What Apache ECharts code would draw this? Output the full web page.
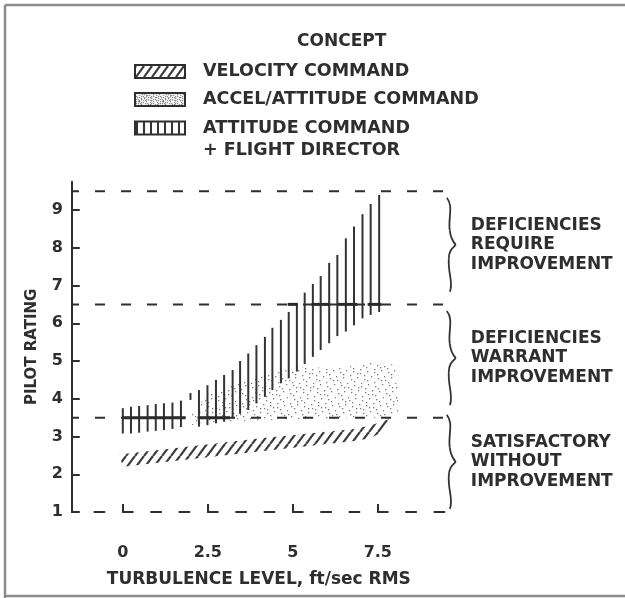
<!DOCTYPE html>
<html>
<head>
<meta charset="utf-8">
<script src="https://cdn.jsdelivr.net/npm/echarts@6/dist/echarts.min.js"></script>
<style>
  html, body { margin: 0; padding: 0; background: #fff; }
  #chart { width: 625px; height: 598px; }
</style>
</head>
<body>
<div id="chart"></div>
<script>
// ---- Data ---------------------------------------------------------------
// Rating boundaries between the three pilot-opinion zones
const ratingBounds = [3.5, 6.5, 9.5];
const zoneLow = [6.5, 3.5, 1];
const zoneHigh = [9.5, 6.5, 3.5];
const zoneLabels = [
  'DEFICIENCIES\nREQUIRE\nIMPROVEMENT',
  'DEFICIENCIES\nWARRANT\nIMPROVEMENT',
  'SATISFACTORY\nWITHOUT\nIMPROVEMENT'
];

const legendTitle = 'CONCEPT';
const conceptNames = [
  'VELOCITY COMMAND',
  'ACCEL/ATTITUDE COMMAND',
  'ATTITUDE COMMAND\n+ FLIGHT DIRECTOR'
];

const xTicks = [0, 2.5, 5, 7.5];
const yTicks = [1, 2, 3, 4, 5, 6, 7, 8, 9];

// Velocity command: band of ratings (upper and lower edges)
const velTurbUpper = [-0.1, 4.0, 6.8, 7.3, 7.95];
const velUpper     = [2.52, 2.95, 3.2, 3.3, 3.5];
const velTurbLower = [0.0, 4.0, 6.8, 7.25, 7.6];
const velLower     = [2.2, 2.6, 2.88, 2.95, 3.1];

// Accel/attitude command: band of ratings
const accTurbUpper = [2.0, 2.5, 3.5, 4.5, 5.3, 6.3, 7.3, 8.1];
const accUpper     = [3.6, 4.1, 4.45, 4.7, 4.85, 4.8, 4.95, 4.9];
const accTurbLower = [2.0, 3.0, 5.0, 7.5, 8.1];
const accLower     = [3.3, 3.4, 3.45, 3.5, 3.65];

// Attitude command + flight director: rating spread at each turbulence level
const fdTurb = [0, 0.24, 0.48, 0.73, 0.97, 1.21, 1.46, 1.71, 1.99,
  2.24, 2.49, 2.74, 2.98, 3.23, 3.45, 3.69, 3.93, 4.18, 4.4, 4.65, 4.88,
  5.12, 5.35, 5.59, 5.82, 6.07, 6.31, 6.56, 6.8, 7.05, 7.29, 7.54];
const fdLow = [3.08, 3.08, 3.1, 3.13, 3.15, 3.17, 3.2, 3.25, 3.97,
  3.26, 3.3, 3.35, 3.39, 3.48, 3.6, 3.7, 3.88, 4.05, 4.23, 4.41, 4.54,
  4.72, 4.92, 5.11, 5.29, 5.47, 5.66, 5.78, 5.95, 6.13, 6.22, 6.3];
const fdHigh = [3.75, 3.79, 3.81, 3.83, 3.86, 3.88, 3.9, 3.95, 4.15,
  4.23, 4.36, 4.5, 4.63, 4.76, 5.0, 5.2, 5.42, 5.64, 5.88, 6.09, 6.3,
  6.51, 6.81, 7.04, 7.25, 7.6, 7.81, 8.25, 8.56, 8.89, 9.16, 9.4];

// Typical (median) rating marks for the flight-director concept
const medTurbStart = [0.0, 2.2, 4.85, 5.55, 6.3, 7.2];
const medTurbEnd   = [1.85, 3.15, 5.15, 6.1, 6.9, 7.6];
const medRating    = [3.5, 3.5, 6.5, 6.5, 6.5, 6.5];

// ---- Fill textures ---------------------------------------------------------
const INK = '#2e2e2e';
const FONT = '"DejaVu Sans", sans-serif';

function hatchTexture(w, h, lw) {
  const c = document.createElement('canvas');
  c.width = w; c.height = h;
  const g = c.getContext('2d');
  g.strokeStyle = '#3a3a3a';
  g.lineWidth = lw;
  g.lineCap = 'butt';
  [-w, 0, w].forEach(function (dx) {
    g.beginPath();
    g.moveTo(dx, h);
    g.lineTo(dx + w, 0);
    g.stroke();
  });
  return c;
}

function stippleTexture(size, count, alpha) {
  const c = document.createElement('canvas');
  c.width = size; c.height = size;
  const g = c.getContext('2d');
  g.fillStyle = 'rgba(70,70,70,' + alpha + ')';
  // evenly spread points (additive recurrence)
  const a1 = 0.7548776662, a2 = 0.5698402910;
  for (let i = 0; i < count; i++) {
    const px = ((0.5 + i * a1) % 1) * size;
    const py = ((0.5 + i * a2) % 1) * size;
    g.fillRect(Math.floor(px), Math.floor(py), 1.3, 1.3);
  }
  return c;
}

function verticalTexture(w, h, lw) {
  const c = document.createElement('canvas');
  c.width = w; c.height = h;
  const g = c.getContext('2d');
  g.fillStyle = '#333';
  g.fillRect(Math.round((w - lw) / 2), 0, lw, h);
  return c;
}

const hatchFill = { image: hatchTexture(9, 12, 2.2), repeat: 'repeat' };
const stippleFill = { image: stippleTexture(48, 95, 0.7), repeat: 'repeat' };
const legendHatch = { image: hatchTexture(8, 11, 2.2), repeat: 'repeat' };
const legendStipple = { image: stippleTexture(24, 140, 0.6), repeat: 'repeat' };
const legendVertical = { image: verticalTexture(7, 4, 2), repeat: 'repeat' };

// ---- Helpers -----------------------------------------------------------------
function outline(upX, upY, loX, loY) {
  const pts = upX.map(function (x, i) { return [x, upY[i]]; });
  for (let i = loX.length - 1; i >= 0; i--) pts.push([loX[i], loY[i]]);
  return pts;
}

function bandRenderer(fill) {
  return function (params, api) {
    if (params.dataIndexInside !== 0) return;
    const pts = [];
    for (let i = 0; i < params.dataInsideLength; i++) {
      pts.push(api.coord([api.value(0, i), api.value(1, i)]));
    }
    return { type: 'polygon', shape: { points: pts }, style: { fill: fill, stroke: null } };
  };
}

function braceShapes(x, yc, hh, color) {
  const s = { stroke: color, lineWidth: 1.8, fill: null };
  return [
    { type: 'bezierCurve', shape: { x1: x, y1: yc - hh, cpx1: x + 7, cpy1: yc - hh + 8, cpx2: x + 1, cpy2: yc - hh * 0.55, x2: x + 3, y2: yc - hh * 0.3 }, style: s },
    { type: 'bezierCurve', shape: { x1: x + 3, y1: yc - hh * 0.3, cpx1: x + 4, cpy1: yc - hh * 0.12, cpx2: x + 6, cpy2: yc - 3, x2: x + 9, y2: yc }, style: s },
    { type: 'bezierCurve', shape: { x1: x + 9, y1: yc, cpx1: x + 6, cpy1: yc + 3, cpx2: x + 2, cpy2: yc + hh * 0.12, x2: x + 2, y2: yc + hh * 0.3 }, style: s },
    { type: 'bezierCurve', shape: { x1: x + 2, y1: yc + hh * 0.3, cpx1: x + 1, cpy1: yc + hh * 0.6, cpx2: x + 7, cpy2: yc + hh - 8, x2: x + 3, y2: yc + hh }, style: s }
  ];
}

// ---- Chart -------------------------------------------------------------------
const chart = echarts.init(document.getElementById('chart'), null, { renderer: 'canvas' });

const legendRowsY = [71.5, 99.5, 128];
const legendFills = [legendHatch, legendStipple, legendVertical];
const legendGraphics = [{
  type: 'text', left: 297, top: 33,
  style: { text: legendTitle, font: 'bold 17px ' + FONT, fill: INK }
}];
conceptNames.forEach(function (name, i) {
  legendGraphics.push({
    type: 'rect', shape: { x: 135, y: legendRowsY[i] - 6.5, width: 50, height: 13 },
    style: { fill: legendFills[i], stroke: INK, lineWidth: 2 }
  });
  legendGraphics.push({
    type: 'text', x: 203, y: legendRowsY[i] - 11,
    style: { text: name, font: 'bold 17.5px ' + FONT, fill: INK, lineHeight: 22, verticalAlign: 'top' }
  });
});

const frame = [
  { type: 'line', shape: { x1: 5, y1: 5, x2: 625, y2: 5 }, style: { stroke: '#8c8c8c', lineWidth: 2.5 } },
  { type: 'line', shape: { x1: 5, y1: 5, x2: 5, y2: 598 }, style: { stroke: '#8c8c8c', lineWidth: 2.5 } },
  { type: 'line', shape: { x1: 5, y1: 596, x2: 625, y2: 596 }, style: { stroke: '#8c8c8c', lineWidth: 2.5 } }
];

const option = {
  backgroundColor: '#ffffff',
  animation: false,
  grid: { left: 71.8, top: 181.7, width: 374, height: 330.3, containLabel: false },
  xAxis: {
    type: 'value', min: -1.5, max: 9.5,
    name: 'TURBULENCE LEVEL, ft/sec RMS', nameLocation: 'middle', nameGap: 59,
    nameTextStyle: { fontFamily: 'DejaVu Sans', fontWeight: 'bold', fontSize: 17, color: INK },
    axisLine: { show: true, onZero: false, lineStyle: { color: INK, width: 2, type: [10, 18.33], dashOffset: 5.67 } },
    axisTick: { show: true, inside: true, length: 8, customValues: xTicks, lineStyle: { color: INK, width: 2 } },
    axisLabel: { customValues: xTicks, margin: 33, fontFamily: 'DejaVu Sans', fontWeight: 'bold', fontSize: 16, color: INK },
    splitLine: { show: false }
  },
  yAxis: {
    type: 'value', min: 1, max: 9.75,
    name: 'PILOT RATING', nameLocation: 'middle', nameGap: 32, nameRotate: 90,
    nameTextStyle: { fontFamily: 'DejaVu Sans', fontWeight: 'bold', fontSize: 15, color: INK },
    axisLine: { show: true, onZero: false, lineStyle: { color: INK, width: 2 } },
    axisTick: { show: true, inside: true, length: 8, customValues: yTicks, lineStyle: { color: INK, width: 2 } },
    axisLabel: { customValues: yTicks, margin: 9, fontFamily: 'DejaVu Sans', fontWeight: 'bold', fontSize: 16, color: INK },
    splitLine: { show: false }
  },
  graphic: frame.concat(legendGraphics),
  series: [
    {
      name: conceptNames[1], type: 'custom', z: 2,
      data: outline(accTurbUpper, accUpper, accTurbLower, accLower),
      renderItem: bandRenderer(stippleFill)
    },
    {
      name: conceptNames[0], type: 'custom', z: 3,
      data: outline(velTurbUpper, velUpper, velTurbLower, velLower),
      renderItem: bandRenderer(hatchFill)
    },
    {
      name: conceptNames[2], type: 'custom', z: 4,
      data: fdTurb.map(function (x, i) { return [x, fdLow[i], fdHigh[i]]; }),
      renderItem: function (params, api) {
        const a = api.coord([api.value(0), api.value(1)]);
        const b = api.coord([api.value(0), api.value(2)]);
        return { type: 'line', shape: { x1: a[0], y1: a[1], x2: b[0], y2: b[1] },
                 style: { stroke: '#333', lineWidth: 2 } };
      }
    },
    {
      name: 'median', type: 'custom', z: 5,
      data: medTurbStart.map(function (x, i) { return [x, medTurbEnd[i], medRating[i]]; }),
      renderItem: function (params, api) {
        const a = api.coord([api.value(0), api.value(2)]);
        const b = api.coord([api.value(1), api.value(2)]);
        return { type: 'line', shape: { x1: a[0], y1: a[1], x2: b[0], y2: b[1] },
                 style: { stroke: '#2a2a2a', lineWidth: 3 } };
      }
    },
    {
      name: 'bounds', type: 'custom', z: 6,
      data: ratingBounds.map(function (r) { return [-1.5, 9.5, r]; }),
      renderItem: function (params, api) {
        const a = api.coord([api.value(0), api.value(2)]);
        const b = api.coord([api.value(1), api.value(2)]);
        return { type: 'line', shape: { x1: a[0], y1: a[1], x2: b[0], y2: b[1] },
                 style: { stroke: INK, lineWidth: 2, lineDash: [10, 16], lineDashOffset: 2.8 } };
      }
    },
    {
      name: 'zones', type: 'custom', z: 6, clip: false,
      data: zoneLow.map(function (lo, i) { return [9.5, lo, zoneHigh[i]]; }),
      renderItem: function (params, api) {
        const top = api.coord([api.value(0), api.value(2)]);
        const bot = api.coord([api.value(0), api.value(1)]);
        const yc = (top[1] + bot[1]) / 2 - 3;
        const bx = top[0] + 1;
        const children = braceShapes(bx, yc, 47, '#333');
        children.push({
          type: 'text', x: bx + 24, y: yc,
          style: { text: zoneLabels[params.dataIndex], font: 'bold 17px ' + FONT, fill: INK,
                   lineHeight: 19.5, verticalAlign: 'middle', align: 'left' }
        });
        return { type: 'group', children: children };
      }
    }
  ]
};

chart.setOption(option);
</script>
</body>
</html>
